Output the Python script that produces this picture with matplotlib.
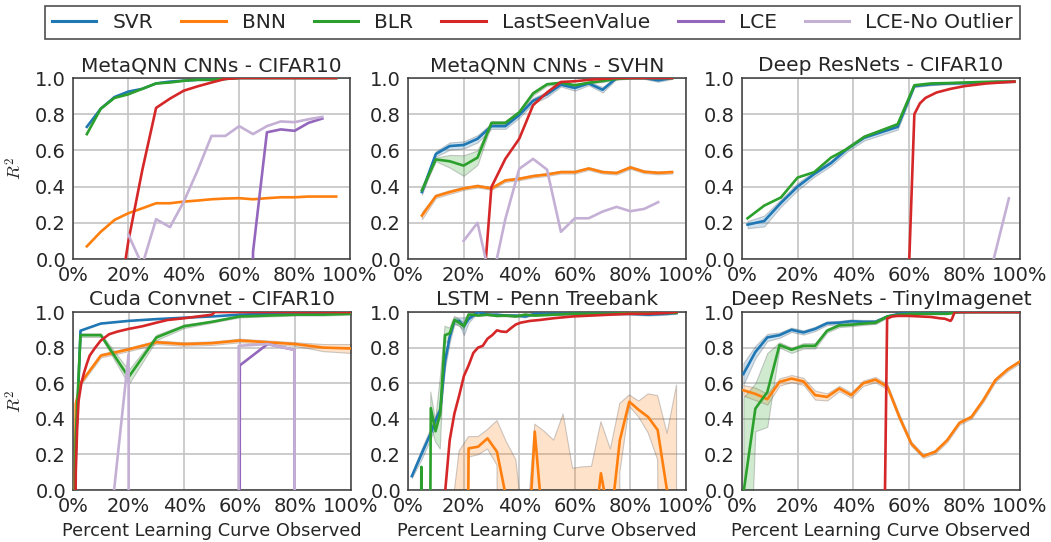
import numpy as np
import matplotlib.pyplot as plt
from matplotlib.colors import to_rgba
from matplotlib.lines import Line2D

plt.rcParams['font.family'] = ['DejaVu Sans']
plt.rcParams['mathtext.fontset'] = 'cm'

W, H = 1051, 542
NAMES = ["SVR", "BNN", "BLR", "LastSeenValue", "LCE", "LCE-No Outlier"]
COLORS = {"SVR": "#1f77b4", "BNN": "#ff7f0e", "BLR": "#2ca02c",
          "LastSeenValue": "#d62728", "LCE": "#9467bd", "LCE-No Outlier": "#c5b0d5"}
nan = np.nan

# ---- MetaQNN CNNs - CIFAR10 ----
mq_c10_x = [5, 10, 15, 20, 25, 30, 35, 40, 45, 50, 55, 60, 65, 70, 75, 80, 85, 90, 95]
mq_c10_svr = [0.73, 0.83, 0.895, 0.925, 0.94, 0.97, 0.98, 0.985, 0.99, 0.99, 0.995, 1.0, 1.0, 1.0, 1.0, 1.0, 1.0, 1.0, 1.0]
mq_c10_blr = [0.69, 0.83, 0.89, 0.91, 0.94, 0.97, 0.975, 0.985, 0.99, 0.99, 0.995, 1.0, 1.0, 1.0, 1.0, 1.0, 1.0, 1.0, 1.0]
mq_c10_bnn = [0.07, 0.15, 0.216, 0.253, 0.28, 0.308, 0.308, 0.317, 0.323, 0.33, 0.334, 0.336, 0.33, 0.336, 0.341, 0.341, 0.345, 0.345, 0.345]
mq_c10_lsv = [-5, -5, -0.4, 0.1, 0.49, 0.835, 0.886, 0.93, 0.954, 0.975, 0.995, 1.0, 1.0, 1.0, 1.0, 1.0, 1.0, 1.0, 1.0]
mq_c10_lce = [nan] * 11 + [-5, 0.04, 0.70, 0.716, 0.708, 0.752, 0.776, nan]
mq_c10_lceno = [nan, nan, nan, 0.134, -0.034, 0.22, 0.176, 0.317, 0.49, 0.68, 0.68, 0.734, 0.69, 0.734, 0.76, 0.756, 0.772, 0.785, nan]

# ---- MetaQNN CNNs - SVHN ----
mq_sv_x = mq_c10_x
mq_sv_svr = [0.37, 0.58, 0.624, 0.63, 0.664, 0.734, 0.734, 0.795, 0.874, 0.91, 0.963, 0.945, 0.97, 0.935, 1.0, 1.0, 1.0, 0.987, 1.0]
mq_sv_svr_sd = [0.015, 0.015, 0.02, 0.02, 0.02, 0.015, 0.015, 0.015, 0.015, 0.015, 0.01, 0.015, 0.01, 0.015, 0.005, 0.005, 0.005, 0.008, 0.005]
mq_sv_blr = [0.38, 0.55, 0.54, 0.516, 0.56, 0.752, 0.752, 0.81, 0.915, 0.965, 0.974, 0.96, 0.974, 0.983, 0.995, 1.0, 1.0, 1.0, 1.0]
mq_sv_blr_sd = [0.01, 0.01, 0.035, 0.057, 0.04, 0.01, 0.01, 0.01, 0.01, 0.008, 0.005, 0.005, 0.005, 0.005, 0.005, 0.003, 0.003, 0.003, 0.003]
mq_sv_bnn = [0.24, 0.347, 0.37, 0.39, 0.403, 0.39, 0.434, 0.443, 0.458, 0.467, 0.48, 0.48, 0.5, 0.48, 0.475, 0.506, 0.482, 0.476, 0.48]
mq_sv_bnn_sd = [0.02, 0.01, 0.01, 0.008, 0.008, 0.008, 0.008, 0.008, 0.008, 0.008, 0.008, 0.008, 0.008, 0.008, 0.008, 0.008, 0.008, 0.008, 0.008]
mq_sv_lsv = [-5, -5, -5, -5, -0.6, 0.397, 0.553, 0.664, 0.85, 0.92, 0.978, 0.982, 0.99, 0.995, 1.0, 1.0, 1.0, 1.0, 1.0]
mq_sv_lceno = [nan, nan, nan, 0.1, 0.2, -0.14, 0.22, 0.498, 0.553, 0.494, 0.15, 0.225, 0.225, 0.262, 0.288, 0.264, 0.277, 0.314, nan]

# ---- Deep ResNets - CIFAR10 ----
rn_c10_x = [2, 8, 14, 20, 26, 32, 38, 44, 50, 56, 62, 68, 74, 80, 86, 92, 98]
rn_c10_svr = [0.19, 0.21, 0.31, 0.40, 0.47, 0.53, 0.61, 0.67, 0.70, 0.73, 0.955, 0.965, 0.97, 0.972, 0.975, 0.978, 0.98]
rn_c10_svr_sd = [0.02, 0.03, 0.02, 0.02, 0.015, 0.015, 0.015, 0.015, 0.015, 0.015, 0.005, 0.005, 0.005, 0.005, 0.005, 0.005, 0.005]
rn_c10_blr = [0.225, 0.295, 0.34, 0.45, 0.48, 0.56, 0.61, 0.675, 0.71, 0.745, 0.96, 0.97, 0.972, 0.975, 0.978, 0.98, 0.98]
rn_c10_lsv_x = [59.5, 62, 64, 66, 70, 75, 80, 88, 98]
rn_c10_lsv = [-0.3, 0.8, 0.86, 0.89, 0.92, 0.94, 0.955, 0.97, 0.98]
rn_c10_lceno_x = [84, 96]
rn_c10_lceno = [-0.4, 0.335]

# ---- Cuda Convnet - CIFAR10 ----
cc_x = [0.3, 1, 2.7, 10, 20, 30, 40, 50, 60, 70, 80, 90, 100]
cc_svr = [-0.5, 0.2, 0.895, 0.935, 0.95, 0.96, 0.968, 0.975, 0.985, 0.99, 0.99, 0.99, 0.995]
cc_blr = [-0.5, 0.3, 0.87, 0.87, 0.634, 0.857, 0.92, 0.945, 0.975, 0.98, 0.985, 0.985, 0.99]
cc_blr_sd = [0, 0, 0.01, 0.01, 0.04, 0.015, 0.01, 0.005, 0.005, 0.005, 0.005, 0.005, 0.005]
cc_bnn = [-0.5, 0.485, 0.6, 0.755, 0.79, 0.83, 0.82, 0.825, 0.84, 0.83, 0.82, 0.80, 0.795]
cc_bnn_sd = [0, 0, 0.01, 0.01, 0.01, 0.01, 0.01, 0.01, 0.01, 0.01, 0.01, 0.02, 0.025]
cc_lsv_x = [0.5, 1, 1.5, 2, 3, 4, 5, 6, 8, 10, 13, 16, 20, 25, 30, 34, 40, 45, 50, 51, 60, 80, 100]
cc_lsv = [-1, 0.1, 0.35, 0.5, 0.6, 0.66, 0.71, 0.755, 0.8, 0.84, 0.875, 0.89, 0.905, 0.92, 0.94, 0.955, 0.965, 0.975, 0.985, 1.0, 1.0, 1.0, 1.0]
cc_lce_x = [59.6, 60, 70, 79.7, 79.9]
cc_lce = [-10, 0.70, 0.82, 0.787, -10]
cc_lceno_x = [10, 20, 20.2, 59.4, 59.6, 70, 79.7, 79.9]
cc_lceno = [-0.7, 0.763, -10, -10, 0.81, 0.82, 0.787, -10]

# ---- LSTM - Penn Treebank ----
ls_x = [1.4, 3.1, 4.8, 6.5, 8.2, 9.9, 11.6, 13.3, 15.0, 16.7, 18.4, 20.1, 21.8, 23.5, 25.2,
        28.6, 32.0, 35.4, 38.8, 42.2, 45.6, 52.4, 59.2, 66.0, 72.8, 79.6, 86.4, 93.2, 96.6]
ls_svr = [0.078, 0.14, 0.2, 0.26, 0.32, 0.39, 0.45, 0.72, 0.86, 0.95, 0.95, 0.92, 0.96, 0.98, 1.0,
          0.985, 0.985, 0.98, 0.98, 0.975, 0.99, 0.99, 0.99, 0.99, 0.99, 0.99, 0.985, 0.99, 0.995]
ls_svr_sd = [0.01, 0.02, 0.03, 0.03, 0.03, 0.03, 0.03, 0.04, 0.03, 0.02, 0.02, 0.05, 0.02, 0.01, 0.005,
             0.005, 0.005, 0.005, 0.005, 0.005, 0.005, 0.005, 0.005, 0.005, 0.005, 0.005, 0.005, 0.005, 0.005]
ls_blr = [-5, -5, 0.13, -5, 0.46, 0.33, 0.43, 0.87, 0.88, 0.955, 0.94, 0.92, 0.985, 0.985, 0.98,
          0.985, 0.978, 0.98, 0.975, 0.985, 0.98, 0.985, 0.99, 0.99, 0.99, 0.995, 0.995, 0.995, 0.995]
ls_blr_sd = [0, 0, 0, 0, 0.09, 0.06, 0.2, 0.05, 0.03, 0.02, 0.02, 0.02, 0.01, 0.01, 0.005,
             0.005, 0.005, 0.005, 0.005, 0.005, 0.005, 0.005, 0.005, 0.005, 0.005, 0.005, 0.005, 0.005, 0.005]
ls_lsv_x = [11.6, 13.3, 15.0, 16.7, 18.4, 20.1, 21.8, 23.5, 25.2, 26.9, 28.6, 30.3, 32.0, 33.7, 35.4,
            37.1, 38.8, 40.5, 43.9, 47.3, 52.4, 55.8, 59.2, 66.0, 72.8, 79.6, 86.4, 93.2, 96.6]
ls_lsv = [-3, -0.02, 0.28, 0.43, 0.53, 0.64, 0.70, 0.77, 0.80, 0.81, 0.85, 0.87, 0.897, 0.89, 0.888,
          0.91, 0.93, 0.94, 0.95, 0.955, 0.965, 0.97, 0.975, 0.98, 0.985, 0.99, 0.99, 0.995, 1.0]
ls_bnn_x = [1.4, 4.8, 8.2, 11.6, 15.0, 18.4, 21.8, 25.2, 28.6, 32.0, 35.4, 38.8, 42.2, 45.6, 49.0,
            52.4, 55.8, 59.2, 62.6, 66.0, 69.4, 72.8, 76.2, 79.6, 83.0, 86.4, 89.8, 93.2, 96.6]
ls_bnn = [-8, -8, -8, -8, -8, -8, 0.234, 0.243, 0.29, 0.215, -0.05, -5, -0.6, 0.328, -0.29,
          -5, -5, -5, -5, -0.36, 0.094, -0.2, 0.28, 0.496, 0.45, 0.41, 0.337, -0.005, -3]
ls_bnn_hi = [-5, -5, -5, -5, -0.22, 0.22, 0.30, 0.30, 0.34, 0.39, 0.27, 0.17, -0.31, 0.37, 0.33,
             0.28, 0.427, 0.122, 0.13, 0.133, 0.384, 0.23, 0.487, 0.534, 0.5, 0.54, 0.53, 0.318, 0.59]
ls_bnn_lo = [-12, -12, -12, -12, -12, -12, 0.185, 0.198, 0.23, 0.14, -9, -12, -12, -3, -12,
             -12, -12, -12, -12, -12, -5, -12, 0.1, 0.47, 0.41, 0.32, 0.17, -9, -12]

# ---- Deep ResNets - TinyImagenet ----
ti_x = [0.5, 4.8, 9.1, 13.5, 17.8, 22.1, 26.3, 30.6, 35.0, 39.3, 43.6, 48.0,
        52.3, 56.6, 60.9, 65.2, 69.5, 73.8, 78.2, 82.5, 86.8, 91.1, 95.5, 99.8]
ti_svr = [0.652, 0.775, 0.857, 0.87, 0.9, 0.885, 0.905, 0.937, 0.94, 0.948, 0.945, 0.945,
          0.975, 0.99, 0.995, 0.997, 0.998, 0.998, 0.999, 1.0, 1.0, 1.0, 1.0, 1.0]
ti_svr_sd = [0.06, 0.035, 0.02, 0.015, 0.012, 0.012, 0.012, 0.01, 0.01, 0.01, 0.01, 0.01,
             0.005, 0.003, 0.003, 0.003, 0.003, 0.003, 0.003, 0.003, 0.003, 0.003, 0.003, 0.003]
ti_blr = [-0.02, 0.457, 0.55, 0.815, 0.788, 0.81, 0.81, 0.895, 0.925, 0.928, 0.935, 0.94,
          0.975, 0.985, 0.99, 0.99, 0.99, 0.99, 1.0, 1.0, 1.0, 1.0, 1.0, 1.0]
ti_blr_lo = [-1.44, 0.33, 0.355, 0.80, 0.77, 0.795, 0.795, 0.885, 0.915, 0.92, 0.927, 0.933,
             0.97, 0.982, 0.988, 0.988, 0.988, 0.988, 0.998, 0.998, 0.998, 0.998, 0.998, 0.998]
ti_blr_hi = [0.52, 0.60, 0.77, 0.83, 0.80, 0.825, 0.825, 0.905, 0.935, 0.936, 0.943, 0.947,
             0.98, 0.988, 0.992, 0.992, 0.992, 0.992, 1.0, 1.0, 1.0, 1.0, 1.0, 1.0]
ti_bnn = [0.56, 0.54, 0.51, 0.607, 0.626, 0.61, 0.533, 0.523, 0.57, 0.533, 0.6, 0.62,
          0.58, 0.41, 0.26, 0.19, 0.215, 0.28, 0.377, 0.41, 0.505, 0.617, 0.677, 0.72]
ti_bnn_sd = [0.03, 0.035, 0.03, 0.02, 0.02, 0.02, 0.025, 0.02, 0.015, 0.015, 0.015, 0.015,
             0.015, 0.015, 0.012, 0.01, 0.01, 0.01, 0.01, 0.01, 0.01, 0.01, 0.01, 0.01]
ti_lsv_x = [51.4, 52.2, 54, 56, 60, 64, 68, 71, 73, 75, 75.5, 76.5, 100]
ti_lsv = [-0.05, 0.963, 0.975, 0.978, 0.978, 0.975, 0.972, 0.965, 0.962, 0.95, 0.96, 1.0, 1.0]


def band_from_sd(y, sd):
    y, sd = np.asarray(y, float), np.asarray(sd, float)
    return y - sd, y + sd


def curve(ax, x, y, name, lo=None, hi=None):
    c = COLORS[name]
    if lo is not None:
        ax.fill_between(x, lo, hi, facecolor=to_rgba(c, 0.22),
                        edgecolor=(0.35, 0.35, 0.35, 0.3), linewidth=0.8, zorder=2)
    ax.plot(x, y, color=c, lw=1.9, zorder=3)


def make_ax(fig, left, right, top, bottom, title, first_col, bottom_row):
    ax = fig.add_axes([left / W, 1 - bottom / H, (right - left) / W, (bottom - top) / H])
    ax.set_xlim(0, 100)
    ax.set_ylim(0, 1)
    ax.set_xticks([0, 20, 40, 60, 80, 100])
    ax.set_xticklabels(["0%", "20%", "40%", "60%", "80%", "100%"])
    ax.set_yticks([0, 0.2, 0.4, 0.6, 0.8, 1.0])
    ax.set_yticklabels(["0.0", "0.2", "0.4", "0.6", "0.8", "1.0"])
    ax.tick_params(length=0, labelsize=14, colors="#262626", pad=5)
    ax.grid(True, color="#c4c4c4", lw=1.2)
    ax.set_axisbelow(True)
    for s in ax.spines.values():
        s.set_color("#3a3a3a")
        s.set_linewidth(1.1)
    ax.set_title(title, fontsize=14.5, color="#262626", pad=5)
    if first_col:
        ax.set_ylabel("$R^2$", fontsize=13, color="#262626", labelpad=7)
    if bottom_row:
        ax.set_xlabel("Percent Learning Curve Observed", fontsize=12.8, color="#262626", labelpad=4)
    return ax


fig = plt.figure(figsize=(W / 100, H / 100), dpi=100)

ax1 = make_ax(fig, 73, 350, 78, 259, "MetaQNN CNNs - CIFAR10", True, False)
curve(ax1, mq_c10_x, mq_c10_svr, "SVR")
curve(ax1, mq_c10_x, mq_c10_bnn, "BNN")
curve(ax1, mq_c10_x, mq_c10_blr, "BLR")
curve(ax1, mq_c10_x, mq_c10_lsv, "LastSeenValue")
curve(ax1, mq_c10_x, mq_c10_lce, "LCE")
curve(ax1, mq_c10_x, mq_c10_lceno, "LCE-No Outlier")

ax2 = make_ax(fig, 408, 686, 78, 259, "MetaQNN CNNs - SVHN", False, False)
curve(ax2, mq_sv_x, mq_sv_svr, "SVR", *band_from_sd(mq_sv_svr, mq_sv_svr_sd))
curve(ax2, mq_sv_x, mq_sv_bnn, "BNN", *band_from_sd(mq_sv_bnn, mq_sv_bnn_sd))
curve(ax2, mq_sv_x, mq_sv_blr, "BLR", *band_from_sd(mq_sv_blr, mq_sv_blr_sd))
curve(ax2, mq_sv_x, mq_sv_lsv, "LastSeenValue")
curve(ax2, mq_sv_x, mq_sv_lceno, "LCE-No Outlier")

ax3 = make_ax(fig, 742, 1020, 78, 259, "Deep ResNets - CIFAR10", False, False)
curve(ax3, rn_c10_x, rn_c10_svr, "SVR", *band_from_sd(rn_c10_svr, rn_c10_svr_sd))
curve(ax3, rn_c10_x, rn_c10_blr, "BLR")
curve(ax3, rn_c10_lsv_x, rn_c10_lsv, "LastSeenValue")
curve(ax3, rn_c10_lceno_x, rn_c10_lceno, "LCE-No Outlier")

ax4 = make_ax(fig, 73, 351, 312, 490, "Cuda Convnet - CIFAR10", True, True)
curve(ax4, cc_x, cc_svr, "SVR")
curve(ax4, cc_x, cc_bnn, "BNN", *band_from_sd(cc_bnn, cc_bnn_sd))
curve(ax4, cc_x, cc_blr, "BLR", *band_from_sd(cc_blr, cc_blr_sd))
curve(ax4, cc_lsv_x, cc_lsv, "LastSeenValue")
curve(ax4, cc_lce_x, cc_lce, "LCE")
curve(ax4, cc_lceno_x, cc_lceno, "LCE-No Outlier")

ax5 = make_ax(fig, 408, 686, 312, 490, "LSTM - Penn Treebank", False, True)
curve(ax5, ls_x, ls_svr, "SVR", *band_from_sd(ls_svr, ls_svr_sd))
curve(ax5, ls_bnn_x, ls_bnn, "BNN", ls_bnn_lo, ls_bnn_hi)
curve(ax5, ls_x, ls_blr, "BLR", *band_from_sd(ls_blr, ls_blr_sd))
curve(ax5, ls_lsv_x, ls_lsv, "LastSeenValue")

ax6 = make_ax(fig, 742, 1020, 312, 490, "Deep ResNets - TinyImagenet", False, True)
curve(ax6, ti_x, ti_svr, "SVR", *band_from_sd(ti_svr, ti_svr_sd))
curve(ax6, ti_x, ti_bnn, "BNN", *band_from_sd(ti_bnn, ti_bnn_sd))
curve(ax6, ti_x, ti_blr, "BLR", ti_blr_lo, ti_blr_hi)
curve(ax6, ti_lsv_x, ti_lsv, "LastSeenValue")

handles = [Line2D([], [], color=COLORS[n], lw=2.2) for n in NAMES]
leg = fig.legend(handles, NAMES, loc="upper left", ncol=6, mode="expand",
                 bbox_to_anchor=(45 / W, 1 - 6 / H, 975 / W, 0.0),
                 fontsize=14.5, frameon=True, fancybox=False, edgecolor="#222222",
                 borderaxespad=0, handlelength=2.2, borderpad=0.35)
leg.get_frame().set_linewidth(1.2)
for t in leg.get_texts():
    t.set_color("#262626")

fig.savefig("out.png", dpi=100)
